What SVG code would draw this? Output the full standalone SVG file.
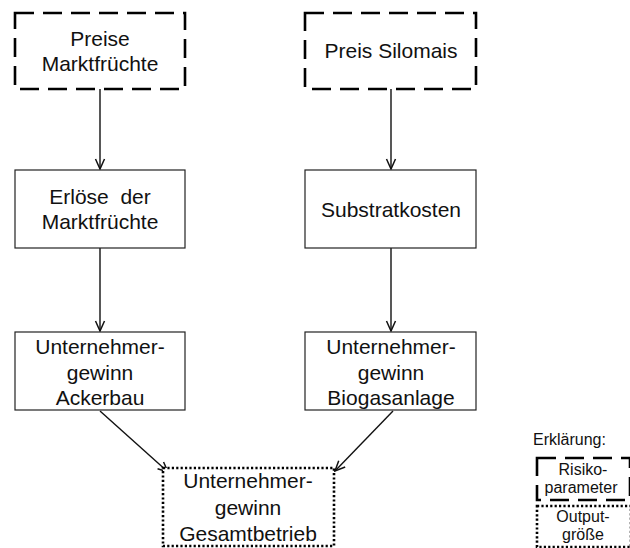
<svg xmlns="http://www.w3.org/2000/svg" width="630" height="548" viewBox="0 0 630 548">
  <style>
    text { font-family: "Liberation Sans", Arial, sans-serif; fill: #111; text-anchor: middle; }
    .t { font-size: 21px; }
    .s { font-size: 16px; }
    .box { fill: #fff; stroke: #222; stroke-width: 1.2; }
    .risk { fill: #fff; stroke: #000; stroke-width: 2.6; stroke-dasharray: 19 9; }
    .out { fill: #fff; stroke: #000; stroke-width: 2.6; stroke-dasharray: 2.2 2.2; }
    .edge { fill: none; stroke: #111; stroke-width: 1.4; marker-end: url(#arr); }
  </style>
  <defs>
    <marker id="arr" viewBox="0 0 12 12" refX="11" refY="6" markerWidth="12" markerHeight="12" markerUnits="userSpaceOnUse" orient="auto">
      <path d="M1,1.5 L11,6 L1,10.5" fill="none" stroke="#111" stroke-width="1.5"/>
    </marker>
  </defs>

  <g id="connectors">
    <line class="edge" x1="100" y1="89" x2="100" y2="169"/>
    <line class="edge" x1="391" y1="89" x2="391" y2="169"/>
    <line class="edge" x1="100" y1="248" x2="100" y2="331"/>
    <line class="edge" x1="391" y1="248" x2="391" y2="331"/>
    <line class="edge" x1="100" y1="411" x2="168" y2="472"/>
    <line class="edge" x1="393" y1="411" x2="335" y2="471"/>
  </g>

  <g id="preise-marktfruechte">
    <rect class="risk" x="15" y="13" width="170" height="76"/>
    <text class="t" x="100" y="46">Preise</text>
    <text class="t" x="100" y="71">Marktfrüchte</text>
  </g>

  <g id="preis-silomais">
    <rect class="risk" x="305" y="13" width="171" height="76"/>
    <text class="t" x="391" y="58">Preis Silomais</text>
  </g>

  <g id="erloese">
    <rect class="box" x="15" y="170" width="170" height="78"/>
    <text class="t" x="100" y="204" xml:space="preserve">Erlöse  der</text>
    <text class="t" x="100" y="229">Marktfrüchte</text>
  </g>

  <g id="substratkosten">
    <rect class="box" x="305" y="170" width="171" height="78"/>
    <text class="t" x="391" y="217">Substratkosten</text>
  </g>

  <g id="gewinn-ackerbau">
    <rect class="box" x="15" y="332" width="170" height="78"/>
    <text class="t" x="100" y="354">Unternehmer-</text>
    <text class="t" x="100" y="380">gewinn</text>
    <text class="t" x="100" y="405">Ackerbau</text>
  </g>

  <g id="gewinn-biogasanlage">
    <rect class="box" x="305" y="332" width="171" height="78"/>
    <text class="t" x="391" y="354">Unternehmer-</text>
    <text class="t" x="391" y="380">gewinn</text>
    <text class="t" x="391" y="405">Biogasanlage</text>
  </g>

  <g id="gewinn-gesamtbetrieb">
    <rect class="out" x="163" y="468" width="171" height="78"/>
    <text class="t" x="248" y="488">Unternehmer-</text>
    <text class="t" x="248" y="515">gewinn</text>
    <text class="t" x="248" y="541">Gesamtbetrieb</text>
  </g>

  <g id="legende">
    <text class="s" x="533" y="445" style="text-anchor:start">Erklärung:</text>
    <rect class="risk" x="537" y="458" width="93" height="42"/>
    <text class="s" x="583" y="475">Risiko-</text>
    <text class="s" x="581" y="493">parameter</text>
    <rect class="out" x="537" y="506" width="94" height="41"/>
    <text class="s" x="583" y="522">Output-</text>
    <text class="s" x="583" y="540">größe</text>
  </g>
</svg>
